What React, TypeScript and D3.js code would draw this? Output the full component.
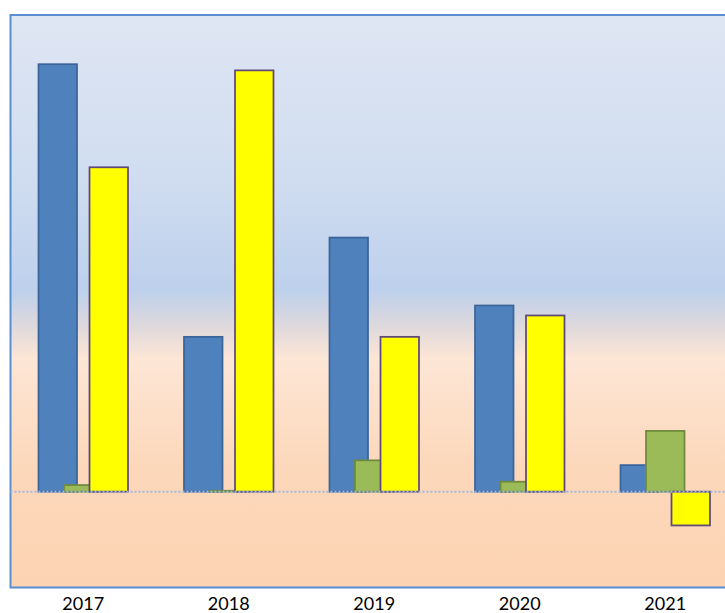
import React from 'react';
import * as d3 from 'd3';

const years = ['2017', '2018', '2019', '2020', '2021'];
const seriesBlue = [90.0, 32.6, 53.5, 39.2, 5.6];
const seriesGreen = [1.4, 0.2, 6.6, 2.1, 12.8];
const seriesYellow = [68.3, 88.7, 32.6, 37.1, -7.1];
const yDomain = [-20, 100];

const W = 725;
const H = 613;
const plot = { left: 10.5, top: 15, right: 738, bottom: 587.5 };
const yRange = [586.7, 16.7];

const seriesStyle = [
  { fill: '#4f81bd', stroke: '#3b659a', values: seriesBlue },
  { fill: '#9bbb59', stroke: '#6f8a3c', values: seriesGreen },
  { fill: '#ffff00', stroke: '#5f497a', values: seriesYellow },
];

export default function App() {
  const x = d3.scaleBand<string>().domain(years).range([plot.left, plot.right]).padding(0);
  const y = d3.scaleLinear().domain(yDomain).range(yRange);
  const band = x.bandwidth();
  const barW = band * (38.5 / 145.5);
  const step = band * (25.5 / 145.5);
  const groupW = barW + step * (seriesStyle.length - 1);
  const offset = (band - groupW) / 2;
  const zeroY = y(0);

  return (
    <svg width={W} height={H} style={{ position: 'absolute', left: 0, top: 0 }}>
      <defs>
        <linearGradient id="bg" x1="0" y1="0" x2="0" y2="1">
          <stop offset="0" stopColor="#dfe6f3" />
          <stop offset="0.3" stopColor="#cfdcf0" />
          <stop offset="0.48" stopColor="#bdd0ec" />
          <stop offset="0.545" stopColor="#dfd9dc" />
          <stop offset="0.6" stopColor="#fde6d6" />
          <stop offset="0.8" stopColor="#fcd7b9" />
          <stop offset="1" stopColor="#fcd4b4" />
        </linearGradient>
      </defs>
      <rect
        x={plot.left}
        y={plot.top}
        width={plot.right - plot.left}
        height={plot.bottom - plot.top}
        fill="url(#bg)"
        stroke="#5b8ed0"
        strokeWidth={2}
      />
      {seriesStyle.map((s, si) => (
        <g key={si}>
          {s.values.map((v, i) => {
            const x0 = (x(years[i]) as number) + offset + si * step;
            const yTop = Math.min(y(v), zeroY);
            const h = Math.abs(y(v) - zeroY);
            return (
              <rect
                key={i}
                x={x0}
                y={yTop}
                width={barW}
                height={h}
                fill={s.fill}
                stroke={s.stroke}
                strokeWidth={1.75}
              />
            );
          })}
        </g>
      ))}
      <line
        x1={plot.left}
        x2={plot.right}
        y1={zeroY}
        y2={zeroY}
        stroke="#9fbae3"
        strokeWidth={2}
        strokeDasharray="2,2"
      />
      {years.map((yr) => (
        <text
          key={yr}
          x={(x(yr) as number) + band / 2}
          y={610}
          textAnchor="middle"
          fontFamily="Lato, 'Open Sans', sans-serif"
          fontSize={18}
          fill="#000"
        >
          {yr}
        </text>
      ))}
    </svg>
  );
}
